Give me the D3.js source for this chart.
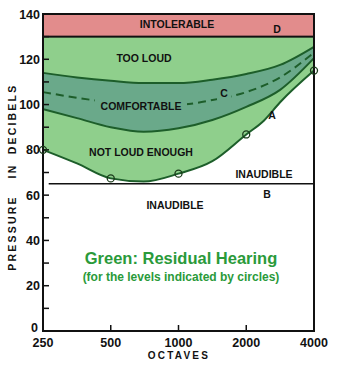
<!DOCTYPE html>
<html><head><meta charset="utf-8">
<script src="https://cdn.jsdelivr.net/npm/d3@7"></script>
<style>body{margin:0;background:#fff}svg{display:block}text{font-family:"Liberation Sans",Arial,sans-serif;font-weight:bold}</style>
</head><body><svg id="c" width="337" height="368"></svg>
<script>
// ---- data ----
const xTicks = [250, 500, 1000, 2000, 4000];
const yTicks = [0, 20, 40, 60, 80, 100, 120, 140];
const yMinor = [10, 30, 50, 70, 90, 110, 130];
const intolerableLow = 130, intolerableHigh = 140;
const inaudibleB = 65;
const bStart = 265;
// curve A: lower limit of residual hearing
const curveAFreq = [250, 354, 500, 700, 1000, 1414, 2000, 2400, 2828, 4000];
const curveADb   = [80, 74, 67.4, 66, 69.5, 75, 86.8, 93, 101, 115];
// comfortable band
const comfFreq  = [250, 354, 500, 700, 1000, 1414, 2000, 2828, 4000];
const comfUpper = [114, 112, 110.5, 109.5, 109.5, 111, 113.5, 117.5, 125.5];
const comfLower = [98, 94, 90, 88, 89.5, 93.2, 99, 106.5, 120.5];
const curveCDb  = [105.5, 103, 101, 100, 100, 102, 105.5, 112, 123];
// measured points (circles)
const circFreq = [250, 500, 1000, 2000, 4000];
const circDb   = [80, 67.4, 69.5, 86.8, 115];

const svg = d3.select("#c");
const x = d3.scaleLog().base(2).domain([250, 4000]).range([43, 314]);
const y = d3.scaleLinear().domain([0, 140]).range([331, 14]);

const lineGreen = "#1d5e2a";
const bandFill = "#6aa98a";
const pts = (fs, ds) => fs.map((f, i) => [f, ds[i]]);
const curve = d3.curveMonotoneX;

// light green region: from 130 down to curve A
const area = d3.area().x(d => x(d[0])).y0(d => y(d[1])).y1(y(intolerableLow)).curve(curve);
svg.append("path").attr("d", area(pts(curveAFreq, curveADb))).attr("fill", "#8fcf8c");

// comfortable band
const band = comfFreq.map((f, i) => [f, comfLower[i], comfUpper[i]]);
svg.append("path").attr("d", d3.area().x(d => x(d[0])).y0(d => y(d[1])).y1(d => y(d[2])).curve(curve)(band))
  .attr("fill", bandFill);

const line = d3.line().x(d => x(d[0])).y(d => y(d[1])).curve(curve);
svg.append("path").attr("d", line(pts(comfFreq, comfUpper))).attr("fill", "none").attr("stroke", lineGreen).attr("stroke-width", 2);
svg.append("path").attr("d", line(pts(comfFreq, comfLower))).attr("fill", "none").attr("stroke", lineGreen).attr("stroke-width", 2);
svg.append("path").attr("d", line(pts(comfFreq, curveCDb))).attr("fill", "none").attr("stroke", lineGreen).attr("stroke-width", 2).attr("stroke-dasharray", "8,5");
svg.append("path").attr("d", line(pts(curveAFreq, curveADb))).attr("fill", "none").attr("stroke", lineGreen).attr("stroke-width", 2);

// gaps in the dashed line behind its labels
svg.append("rect").attr("x", 95).attr("y", 99).attr("width", 92).attr("height", 14).attr("fill", bandFill);
svg.append("rect").attr("x", 217).attr("y", 86).attr("width", 14).attr("height", 14).attr("fill", bandFill);

// intolerable band
svg.append("rect").attr("x", x(250)).attr("y", y(intolerableHigh))
  .attr("width", x(4000) - x(250)).attr("height", y(intolerableLow) - y(intolerableHigh))
  .attr("fill", "#e28c8c").attr("stroke", "#111").attr("stroke-width", 2);

// line B
svg.append("line").attr("x1", x(bStart)).attr("x2", x(4000)).attr("y1", y(inaudibleB)).attr("y2", y(inaudibleB))
  .attr("stroke", "#111").attr("stroke-width", 1.6);

// frame / axes
svg.append("path").attr("d", `M${x(250)},${y(140)}V${y(0)}H${x(4000)}V${y(140)}`)
  .attr("fill", "none").attr("stroke", "#111").attr("stroke-width", 2);

// y ticks (inward)
svg.selectAll(".yt").data(yTicks.concat(yMinor)).enter().append("line")
  .attr("x1", x(250)).attr("x2", x(250) + 6).attr("y1", d => y(d)).attr("y2", d => y(d))
  .attr("stroke", "#111").attr("stroke-width", 1.5);
svg.selectAll(".yl").data(yTicks).enter().append("text")
  .attr("x", d => d === 0 ? 38 : 40).attr("y", d => d === 0 ? y(d) + 1 : y(d) + 4.5)
  .attr("text-anchor", "end").attr("font-size", 12.5)
  .attr("fill", "#111").text(d => d);
// x ticks (inward)
svg.selectAll(".xt").data(xTicks.slice(1, -1)).enter().append("line")
  .attr("x1", d => x(d)).attr("x2", d => x(d)).attr("y1", y(0)).attr("y2", y(0) - 6)
  .attr("stroke", "#111").attr("stroke-width", 1.5);
svg.selectAll(".xl").data(xTicks).enter().append("text")
  .attr("x", d => x(d)).attr("y", 347).attr("text-anchor", "middle").attr("font-size", 12.5)
  .attr("fill", "#111").text(d => d);

// axis titles
svg.append("text").attr("x", 179).attr("y", 359).attr("text-anchor", "middle").attr("font-size", 10)
  .attr("letter-spacing", 2.2).attr("fill", "#111").text("OCTAVES");
[["PRESSURE", 233], ["IN", 171], ["DECIBELS", 119]].forEach(([t, cy]) => {
  svg.append("text").attr("transform", `translate(16,${cy}) rotate(-90)`).attr("text-anchor", "middle")
    .attr("font-size", 10.5).attr("letter-spacing", 2.2).attr("fill", "#111").text(t);
});

// circles
svg.selectAll(".ci").data(pts(circFreq, circDb)).enter().append("circle")
  .attr("cx", d => x(d[0])).attr("cy", d => y(d[1])).attr("r", 3.5)
  .attr("fill", "none").attr("stroke", "#1a3a1a").attr("stroke-width", 1.3);

// region labels
const labels = [
  ["INTOLERABLE", 177, 28], ["D", 277, 33], ["TOO LOUD", 144, 62], ["COMFORTABLE", 141, 110],
  ["C", 224, 97], ["NOT LOUD ENOUGH", 141, 156], ["A", 272, 119],
  ["INAUDIBLE", 264, 178], ["B", 267, 198], ["INAUDIBLE", 175, 209]
];
svg.selectAll(".lb").data(labels).enter().append("text")
  .attr("x", d => d[1]).attr("y", d => d[2]).attr("text-anchor", "middle").attr("font-size", 10.5)
  .attr("fill", "#111").text(d => d[0]);

svg.append("text").attr("x", 181).attr("y", 264).attr("text-anchor", "middle").attr("font-size", 16.5)
  .attr("fill", "#2a9a3a").text("Green: Residual Hearing");
svg.append("text").attr("x", 181).attr("y", 281).attr("text-anchor", "middle").attr("font-size", 12)
  .attr("fill", "#2a9a3a").text("(for the levels indicated by circles)");
</script></body></html>
